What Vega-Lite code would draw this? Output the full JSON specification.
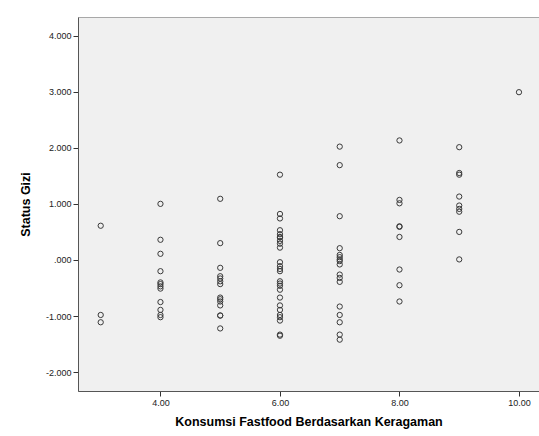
{
  "$schema": "https://vega.github.io/schema/vega-lite/v6.json",
  "width": 461,
  "height": 374,
  "autosize": "none",
  "padding": {"left": 78, "top": 17, "right": 0, "bottom": 45},
  "background": "white",
  "config": {
    "font": "Liberation Sans",
    "view": {"fill": "#F0F0F0", "stroke": "#a8a8a8", "strokeWidth": 1}
  },
  "data": {
    "values": [
      {"x": 3, "y": 0.61}, {"x": 3, "y": -0.98}, {"x": 3, "y": -1.11},
      {"x": 4, "y": 1.00}, {"x": 4, "y": 0.36}, {"x": 4, "y": 0.11}, {"x": 4, "y": -0.20},
      {"x": 4, "y": -0.40}, {"x": 4, "y": -0.43}, {"x": 4, "y": -0.47}, {"x": 4, "y": -0.51},
      {"x": 4, "y": -0.75}, {"x": 4, "y": -0.89}, {"x": 4, "y": -0.98}, {"x": 4, "y": -1.02},
      {"x": 5, "y": 1.09}, {"x": 5, "y": 0.30}, {"x": 5, "y": -0.14}, {"x": 5, "y": -0.29},
      {"x": 5, "y": -0.33}, {"x": 5, "y": -0.38}, {"x": 5, "y": -0.43}, {"x": 5, "y": -0.67},
      {"x": 5, "y": -0.70}, {"x": 5, "y": -0.74}, {"x": 5, "y": -0.81}, {"x": 5, "y": -0.99},
      {"x": 5, "y": -0.99}, {"x": 5, "y": -1.22},
      {"x": 6, "y": 1.52}, {"x": 6, "y": 0.82}, {"x": 6, "y": 0.74}, {"x": 6, "y": 0.53},
      {"x": 6, "y": 0.46}, {"x": 6, "y": 0.41}, {"x": 6, "y": 0.40}, {"x": 6, "y": 0.34}, {"x": 6, "y": 0.29},
      {"x": 6, "y": 0.22}, {"x": 6, "y": -0.04}, {"x": 6, "y": -0.11}, {"x": 6, "y": -0.16},
      {"x": 6, "y": -0.20}, {"x": 6, "y": -0.38}, {"x": 6, "y": -0.42}, {"x": 6, "y": -0.46},
      {"x": 6, "y": -0.53}, {"x": 6, "y": -0.67}, {"x": 6, "y": -0.81}, {"x": 6, "y": -0.89},
      {"x": 6, "y": -0.98}, {"x": 6, "y": -1.02}, {"x": 6, "y": -1.08}, {"x": 6, "y": -1.33},
      {"x": 6, "y": -1.35},
      {"x": 7, "y": 2.02}, {"x": 7, "y": 1.69}, {"x": 7, "y": 0.78}, {"x": 7, "y": 0.21},
      {"x": 7, "y": 0.09}, {"x": 7, "y": 0.05}, {"x": 7, "y": 0.01}, {"x": 7, "y": -0.02},
      {"x": 7, "y": -0.08}, {"x": 7, "y": -0.26}, {"x": 7, "y": -0.32}, {"x": 7, "y": -0.39},
      {"x": 7, "y": -0.83}, {"x": 7, "y": -0.98}, {"x": 7, "y": -1.11}, {"x": 7, "y": -1.33},
      {"x": 7, "y": -1.42},
      {"x": 8, "y": 2.13}, {"x": 8, "y": 1.07}, {"x": 8, "y": 1.01}, {"x": 8, "y": 0.60},
      {"x": 8, "y": 0.59}, {"x": 8, "y": 0.41}, {"x": 8, "y": -0.17}, {"x": 8, "y": -0.45},
      {"x": 8, "y": -0.74},
      {"x": 9, "y": 2.01}, {"x": 9, "y": 1.55}, {"x": 9, "y": 1.52}, {"x": 9, "y": 1.13},
      {"x": 9, "y": 0.97}, {"x": 9, "y": 0.91}, {"x": 9, "y": 0.86}, {"x": 9, "y": 0.50},
      {"x": 9, "y": 0.01},
      {"x": 10, "y": 2.99}
    ]
  },
  "mark": {"type": "point", "shape": "circle", "filled": false, "size": 28, "strokeWidth": 1, "color": "#3a3a3a", "opacity": 1},
  "encoding": {
    "x": {
      "field": "x", "type": "quantitative",
      "scale": {"domain": [2.62, 10.335], "nice": false, "zero": false},
      "axis": {
        "values": [4, 6, 8, 10], "format": ".2f", "grid": false,
        "title": "Konsumsi Fastfood Berdasarkan Keragaman",
        "titleFont": "Liberation Sans", "titleFontSize": 12.5, "titleFontWeight": "bold", "titleColor": "#000",
        "titleAnchor": "middle", "titlePadding": 8,
        "labelFont": "Liberation Sans", "labelFontSize": 9, "labelColor": "#222", "labelPadding": 2,
        "domainColor": "#555", "tickColor": "#333", "tickSize": 5, "labelFlush": false
      }
    },
    "y": {
      "field": "y", "type": "quantitative",
      "scale": {"domain": [-2.335, 4.33], "nice": false, "zero": false},
      "axis": {
        "values": [-2, -1, 0, 1, 2, 3, 4],
        "labelExpr": "datum.value == 0 ? '.000' : (datum.value < 0 ? '-' : '') + format(abs(datum.value), '.3f')",
        "grid": false,
        "title": "Status Gizi",
        "titleFont": "Liberation Sans", "titleFontSize": 12.5, "titleFontWeight": "bold", "titleColor": "#000",
        "titlePadding": 13,
        "labelFont": "Liberation Sans", "labelFontSize": 9, "labelColor": "#222", "labelPadding": 2,
        "domainColor": "#555", "tickColor": "#333", "tickSize": 5
      }
    }
  }
}
